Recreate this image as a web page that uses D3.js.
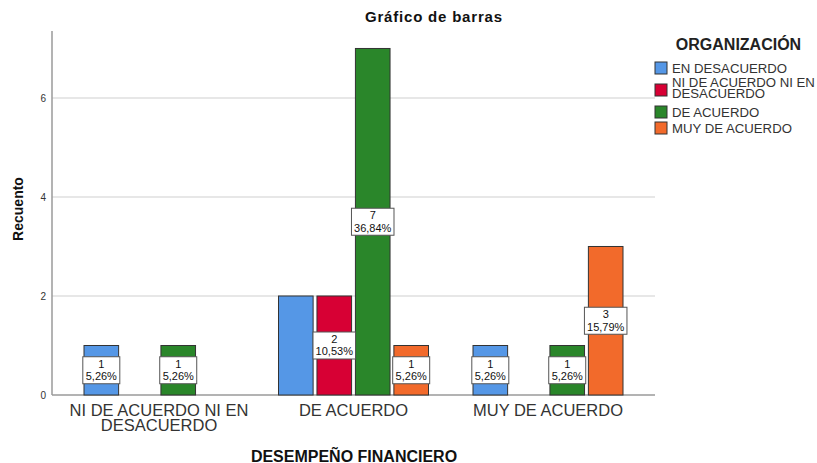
<!DOCTYPE html>
<html><head><meta charset="utf-8">
<script src="https://cdn.jsdelivr.net/npm/d3@7"></script>
<style>body{margin:0;background:#fff;} svg{display:block;font-family:"Liberation Sans",Arial,sans-serif;}</style>
</head><body>
<svg id="c" width="817" height="463"></svg>
<script>
const categories = ["NI DE ACUERDO NI EN DESACUERDO", "DE ACUERDO", "MUY DE ACUERDO"];
const categoryLines = [["NI DE ACUERDO NI EN", "DESACUERDO"], ["DE ACUERDO"], ["MUY DE ACUERDO"]];
const seriesNames = ["EN DESACUERDO", "NI DE ACUERDO NI EN DESACUERDO", "DE ACUERDO", "MUY DE ACUERDO"];
const legendLines = [["EN DESACUERDO"], ["NI DE ACUERDO NI EN", "DESACUERDO"], ["DE ACUERDO"], ["MUY DE ACUERDO"]];
const seriesColors = ["#5597e6", "#d70034", "#2a862a", "#f26a2b"];
const enDesacuerdo = [1, 2, 1];
const niDeAcuerdo = [0, 2, 0];
const deAcuerdo = [1, 7, 1];
const muyDeAcuerdo = [0, 1, 3];
const values = [enDesacuerdo, niDeAcuerdo, deAcuerdo, muyDeAcuerdo];
// percentage labels (null = no label shown)
const pctEnDesacuerdo = ["5,26%", null, "5,26%"];
const pctNiDeAcuerdo = [null, "10,53%", null];
const pctDeAcuerdo = ["5,26%", "36,84%", "5,26%"];
const pctMuyDeAcuerdo = [null, "5,26%", "15,79%"];
const pcts = [pctEnDesacuerdo, pctNiDeAcuerdo, pctDeAcuerdo, pctMuyDeAcuerdo];
const yTicks = [0, 2, 4, 6];

const svg = d3.select("#c");
const plotL = 52, plotR = 655, plotT = 31, plotB = 395;

const y = d3.scaleLinear().domain([0, 7.353]).range([plotB, plotT]);
const x0 = d3.scaleBand().domain(categories).range([61.75, 645.25]).padding(0);
const groupW = 150;
const x1 = d3.scaleBand().domain(seriesNames).range([0, groupW]).paddingInner(0.1).paddingOuter(0);

// gridlines
svg.append("g").selectAll("line").data(yTicks.filter(d => d > 0)).join("line")
  .attr("x1", plotL).attr("x2", plotR)
  .attr("y1", d => y(d)).attr("y2", d => y(d))
  .attr("stroke", "#d0d0d0").attr("stroke-width", 1.2);

// y axis
const yAxis = svg.append("g").attr("transform", `translate(${plotL},0)`)
  .call(d3.axisLeft(y).tickValues(yTicks).tickSize(0).tickPadding(6).tickFormat(d3.format("d")));
yAxis.select(".domain").attr("stroke", "#9a9a9a").attr("stroke-width", 1.5)
  .attr("d", `M0,${plotT}V${plotB}`);
yAxis.selectAll("text").attr("font-size", 10).attr("fill", "#333").attr("font-family", "Liberation Sans, Arial, sans-serif");

// baseline
svg.append("line").attr("x1", plotL).attr("x2", plotR).attr("y1", plotB).attr("y2", plotB)
  .attr("stroke", "#9a9a9a").attr("stroke-width", 1.5);

// bars
const data = [];
categories.forEach((c, ci) => seriesNames.forEach((s, si) => {
  data.push({ c, ci, s, si, v: values[si][ci], p: pcts[si][ci] });
}));
const off = (x0.bandwidth() - groupW) / 2;
const barData = data.filter(d => d.v > 0);
svg.append("g").selectAll("rect").data(barData).join("rect")
  .attr("x", d => x0(d.c) + off + x1(d.s))
  .attr("width", x1.bandwidth())
  .attr("y", d => y(d.v))
  .attr("height", d => y(0) - y(d.v))
  .attr("fill", d => seriesColors[d.si])
  .attr("stroke", "#333").attr("stroke-width", 1);

// labels
const lab = svg.append("g").selectAll("g").data(barData.filter(d => d.p)).join("g")
  .attr("transform", d => `translate(${x0(d.c) + off + x1(d.s) + x1.bandwidth() / 2},${(y(d.v) + y(0)) / 2})`);
lab.each(function(d) {
  const g = d3.select(this);
  const rect = g.append("rect");
  const t = g.append("text").attr("text-anchor", "middle").attr("font-size", 11).attr("fill", "#111");
  t.append("tspan").attr("x", 0).attr("y", -2.5).text(d.v);
  t.append("tspan").attr("x", 0).attr("y", 10).text(d.p);
  const w = Math.max(37, t.node().getBBox().width + 5);
  rect.attr("x", -w / 2).attr("y", -13.5).attr("width", w).attr("height", 27)
    .attr("fill", "#fff").attr("stroke", "#555").attr("stroke-width", 1);
});

// category labels
svg.append("g").selectAll("text").data(categories).join("text")
  .attr("text-anchor", "middle").attr("font-size", 16.5).attr("fill", "#333")
  .attr("transform", d => `translate(${x0(d) + x0.bandwidth() / 2},0)`)
  .each(function(d, i) {
    d3.select(this).selectAll("tspan").data(categoryLines[i]).join("tspan")
      .attr("x", 0).attr("y", (l, j) => 416 + j * 15).text(l => l);
  });

// title
svg.append("text").attr("x", 365).attr("y", 22)
  .attr("font-size", 15).attr("font-weight", "bold").attr("fill", "#111")
  .attr("textLength", 137).attr("lengthAdjust", "spacing").text("Gráfico de barras");
// axis titles
svg.append("text").attr("x", 354).attr("y", 462).attr("text-anchor", "middle")
  .attr("font-size", 16).attr("font-weight", "bold").attr("fill", "#111").text("DESEMPEÑO FINANCIERO");
svg.append("text").attr("transform", "translate(23,209) rotate(-90)").attr("text-anchor", "middle")
  .attr("font-size", 14).attr("font-weight", "bold").attr("fill", "#111").text("Recuento");

// legend
svg.append("text").attr("x", 738.5).attr("y", 50).attr("text-anchor", "middle")
  .attr("font-size", 16).attr("font-weight", "bold").attr("fill", "#222").text("ORGANIZACIÓN");
const legY = [62, 84, 106, 122];
const leg = svg.append("g").selectAll("g").data(seriesNames).join("g")
  .attr("transform", (d, i) => `translate(655,${legY[i]})`);
leg.append("rect").attr("width", 12).attr("height", 12)
  .attr("fill", (d, i) => seriesColors[i]).attr("stroke", "#333").attr("stroke-width", 1);
leg.each(function(d, i) {
  const t = d3.select(this).append("text").attr("font-size", 13.2).attr("fill", "#333");
  const lines = legendLines[i];
  t.selectAll("tspan").data(lines).join("tspan").attr("x", 17)
    .attr("y", (l, j) => (lines.length > 1 ? -2 : 6) + j * 11 + 5).text(l => l);
});
</script>
</body></html>
